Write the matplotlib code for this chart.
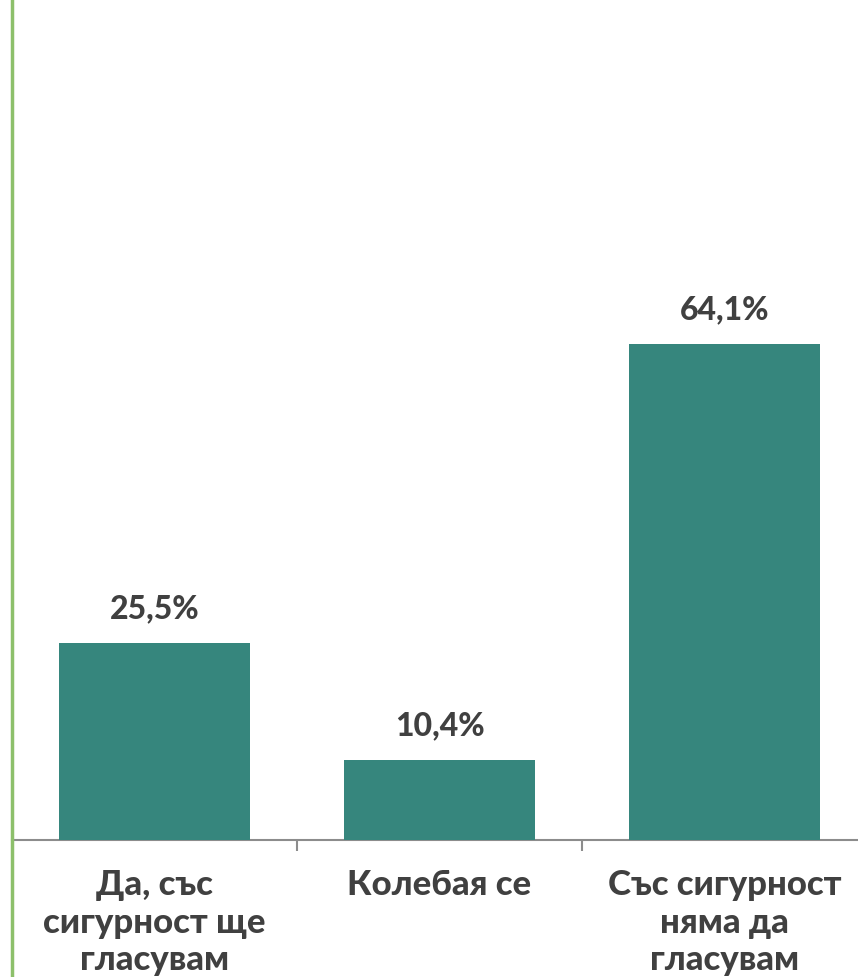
import matplotlib
matplotlib.use("Agg")
import matplotlib.pyplot as plt
from matplotlib.lines import Line2D

categories = ["Да, със\nсигурност ще\nгласувам", "Колебая се", "Със сигурност\nняма да\nгласувам"]
values = [25.5, 10.4, 64.1]
value_labels = ["25,5%", "10,4%", "64,1%"]

plt.rcParams['font.family'] = ['Lato', 'DejaVu Sans']

W, H = 858, 977
fig = plt.figure(figsize=(W / 100, H / 100), dpi=100)
fig.patch.set_facecolor("white")

left = 12 / W
width = 855 / W
bottom = (H - 840) / H
height = 840 / H
ax = fig.add_axes([left, bottom, width, height])

x = range(len(categories))
bars = ax.bar(x, values, width=0.667, color="#36867D", zorder=3)
ax.set_xlim(-0.5, 2.5)
ax.set_ylim(0, 840 / 7.74)

for xi, v, lab in zip(x, values, value_labels):
    ax.annotate(lab, (xi, v), xytext=(0, 14), textcoords="offset points",
                ha="center", va="bottom", fontsize=23, fontweight=900, color="#404040")

for s in ["top", "right", "left"]:
    ax.spines[s].set_visible(False)
ax.spines["bottom"].set_color("#8c8c8c")
ax.spines["bottom"].set_linewidth(1.5)
ax.set_yticks([])
ax.set_xticks([0.5, 1.5], minor=False)
ax.set_xticklabels([])
ax.tick_params(axis="x", length=8, width=1.5, color="#8c8c8c", direction="out")

for xi, c in zip(x, categories):
    ax.text(xi, -3.8, c, ha="center", va="top", fontsize=25, fontweight=900,
            color="#404040", linespacing=1.2, transform=ax.transData)

fig.add_artist(Line2D([11.5 / W, 11.5 / W], [0, 1], color="#8DC06B", linewidth=2.5))

fig.savefig("out.png", dpi=100)
